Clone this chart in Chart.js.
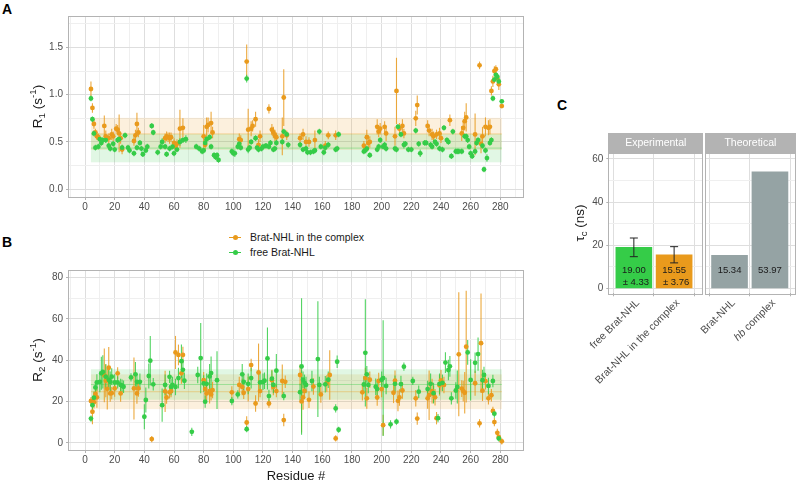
<!DOCTYPE html>
<html>
<head>
<meta charset="utf-8">
<script src="https://cdn.jsdelivr.net/npm/chart.js@4.4.1/dist/chart.umd.min.js"></script>
<style>
  body { margin: 0; background: #fff; font-family: "Liberation Sans", Arial, sans-serif; }
  #wrap { position: relative; width: 796px; height: 484px; overflow: hidden; }
  .pos { position: absolute; }
  .tag { position: absolute; font-weight: bold; font-size: 14px; line-height: 14px; color: #000; }
  .leg { position: absolute; left: 228px; font-size: 10.5px; line-height: 14px; color: #1a1a1a; white-space: nowrap; }
  .sym { display: inline-block; position: relative; width: 14px; height: 14px; vertical-align: top; margin-right: 8px; }
  .sym i { position: absolute; left: 1px; right: 1px; top: 7px; height: 1px; }
  .sym b { position: absolute; left: 5px; top: 5px; width: 5px; height: 5px; border-radius: 50%; }
</style>
</head>
<body>
<div id="wrap">
  <div class="tag" style="left:2px;top:2px">A</div>
  <div class="tag" style="left:2px;top:235px">B</div>
  <div class="tag" style="left:557px;top:98px">C</div>
  <div id="legend"></div>
  <div class="pos" style="left:0;top:0"><canvas id="chartA" width="540" height="215"></canvas></div>
  <div class="pos" style="left:0;top:260px"><canvas id="chartB" width="540" height="224"></canvas></div>
  <div class="pos" style="left:540px;top:120px"><canvas id="chartC1" width="165" height="364"></canvas></div>
  <div class="pos" style="left:660px;top:120px"><canvas id="chartC2" width="136" height="364"></canvas></div>
</div>
<script>
const FONT = '"Liberation Sans", Arial, sans-serif';
const COL_COMPLEX = "#E99A1C";
const COL_FREE = "#35CC48";
const COL_THEO = "#95A3A4";

const seriesNames = ["Brat-NHL in the complex", "free Brat-NHL"];

// [residue, value, error]  R1 (s-1)
const r1Complex = [
  [4,1.06,0.08],[5,0.86,0.05],[6,0.69,0.05],[7,0.60,0.04],[8,0.56,0.04],[9,0.55,0.04],[13,0.67,0.11],[14,0.56,0.06],
  [16,0.54,0.05],[18,0.58,0.06],[19,0.56,0.05],[21,0.64,0.05],[22,0.63,0.05],[23,0.59,0.2],[24,0.54,0.06],[25,0.42,0.05],
  [33,0.51,0.05],[34,0.57,0.06],[35,0.69,0.12],[36,0.60,0.05],[54,0.54,0.05],[55,0.56,0.05],[56,0.55,0.05],[57,0.54,0.06],
  [58,0.55,0.05],[60,0.49,0.05],[61,0.45,0.05],[62,0.48,0.05],[64,0.64,0.2],[66,0.65,0.1],[80,0.56,0.12],[81,0.47,0.05],
  [82,0.66,0.1],[83,0.68,0.08],[85,0.70,0.12],[86,0.60,0.06],[104,0.53,0.06],[105,0.52,0.05],[109,1.35,0.18],[110,0.63,0.22],
  [112,0.64,0.08],[113,0.67,0.06],[115,0.74,0.08],[117,0.47,0.06],[118,0.56,0.06],[124,0.85,0.05],[126,0.63,0.06],[127,0.60,0.06],
  [128,0.57,0.06],[129,0.55,0.05],[133,0.56,0.2],[134,0.97,0.3],[136,0.57,0.05],[145,0.54,0.05],[147,0.58,0.06],[149,0.50,0.06],
  [151,0.50,0.05],[155,0.52,0.1],[162,0.46,0.05],[164,0.57,0.04],[169,0.57,0.05],[188,0.46,0.05],[190,0.55,0.08],[191,0.49,0.08],
  [192,0.50,0.06],[197,0.66,0.08],[198,0.61,0.06],[199,0.64,0.06],[202,0.66,0.06],[203,0.59,0.08],[209,0.56,0.1],[210,1.04,0.35],
  [212,0.64,0.06],[214,0.67,0.07],[215,0.59,0.05],[223,0.75,0.08],[224,0.89,0.1],[231,0.67,0.06],[232,0.62,0.06],[234,0.58,0.06],
  [235,0.56,0.05],[237,0.58,0.05],[239,0.59,0.06],[240,0.54,0.05],[246,0.73,0.06],[254,0.59,0.08],[255,0.65,0.08],[256,0.72,0.1],
  [257,0.76,0.15],[263,0.58,0.22],[266,1.31,0.04],[267,0.48,0.1],[268,0.56,0.1],[270,0.66,0.1],[272,0.65,0.08],[273,0.66,0.08],
  [274,1.04,0.05],[275,1.14,0.06],[276,1.25,0.05],[277,1.27,0.04],[278,1.17,0.05],[279,1.11,0.06],[281,0.88,0.02]
];
const r1Free = [
  [4,0.96,0.03],[5,0.74,0.03],[6,0.59,0.03],[7,0.44,0.03],[9,0.45,0.03],[10,0.53,0.03],[11,0.49,0.03],[12,0.52,0.03],
  [14,0.52,0.03],[16,0.46,0.03],[17,0.43,0.03],[19,0.48,0.03],[20,0.42,0.03],[22,0.52,0.03],[23,0.53,0.03],[25,0.44,0.03],
  [27,0.57,0.03],[29,0.44,0.03],[30,0.41,0.03],[33,0.38,0.03],[35,0.44,0.03],[37,0.49,0.03],[38,0.43,0.03],[39,0.37,0.03],
  [41,0.41,0.03],[42,0.45,0.03],[45,0.67,0.03],[46,0.60,0.03],[49,0.39,0.03],[51,0.45,0.03],[52,0.50,0.04],[54,0.45,0.03],
  [55,0.37,0.03],[57,0.43,0.03],[59,0.45,0.03],[60,0.38,0.03],[62,0.42,0.03],[64,0.50,0.04],[66,0.52,0.03],[68,0.53,0.04],
  [75,0.45,0.03],[77,0.43,0.03],[79,0.40,0.03],[80,0.41,0.03],[81,0.49,0.03],[82,0.53,0.03],[84,0.55,0.03],[85,0.45,0.03],
  [87,0.36,0.03],[88,0.34,0.03],[89,0.36,0.03],[90,0.31,0.03],[99,0.40,0.03],[100,0.38,0.03],[101,0.38,0.04],[103,0.45,0.03],
  [104,0.48,0.03],[105,0.44,0.03],[109,1.17,0.04],[110,0.42,0.04],[111,0.44,0.03],[112,0.50,0.03],[115,0.54,0.03],[116,0.44,0.03],
  [117,0.42,0.03],[119,0.43,0.03],[120,0.45,0.03],[122,0.46,0.03],[124,0.45,0.03],[125,0.49,0.03],[127,0.42,0.03],[128,0.43,0.03],
  [129,0.49,0.03],[133,0.50,0.03],[134,0.61,0.03],[136,0.58,0.03],[137,0.47,0.03],[145,0.47,0.03],[147,0.42,0.03],[149,0.43,0.03],
  [150,0.39,0.03],[152,0.39,0.03],[154,0.40,0.03],[155,0.41,0.03],[158,0.61,0.03],[159,0.45,0.03],[161,0.39,0.03],[162,0.44,0.03],
  [164,0.47,0.03],[169,0.42,0.03],[170,0.43,0.03],[171,0.58,0.03],[188,0.40,0.03],[189,0.41,0.03],[190,0.43,0.03],[192,0.36,0.03],
  [197,0.42,0.03],[198,0.45,0.03],[199,0.52,0.03],[201,0.45,0.03],[202,0.47,0.03],[203,0.43,0.03],[209,0.43,0.03],[210,0.42,0.03],
  [211,0.66,0.03],[213,0.58,0.03],[215,0.47,0.04],[216,0.48,0.03],[218,0.42,0.03],[220,0.42,0.03],[223,0.62,0.03],[225,0.48,0.03],
  [226,0.38,0.04],[229,0.49,0.03],[230,0.49,0.03],[233,0.47,0.03],[234,0.45,0.03],[236,0.50,0.03],[237,0.48,0.03],[239,0.43,0.03],
  [241,0.42,0.03],[242,0.65,0.03],[244,0.52,0.03],[245,0.50,0.03],[247,0.35,0.03],[248,0.61,0.03],[250,0.40,0.03],[251,0.40,0.03],
  [252,0.40,0.03],[254,0.40,0.03],[256,0.56,0.03],[257,0.56,0.03],[258,0.52,0.03],[259,0.45,0.03],[260,0.38,0.03],[261,0.35,0.03],
  [263,0.40,0.03],[264,0.49,0.03],[265,0.52,0.03],[268,0.46,0.03],[269,0.21,0.03],[270,0.41,0.03],[271,0.33,0.04],[273,0.49,0.03],
  [274,0.52,0.03],[275,0.96,0.03],[276,1.16,0.03],[277,1.21,0.03],[278,1.19,0.03],[279,1.14,0.03],[281,0.93,0.02]
];

// [residue, value, error]  R2 (s-1)
const r2Complex = [
  [4,20.2,2],[5,15.0,6],[6,19.6,3],[7,23.6,3],[8,22.0,5],[13,32.6,13],[14,30,8],[15,26.1,10],[16,36.3,10],[17,23.9,4],
  [18,24,3],[20,26.3,4],[22,33.6,3],[24,23.9,4],[33,26.3,15],[35,23.9,5],[36,26.3,4],[45,1.8,1.5],[54,24.9,10],[55,21.9,3],
  [57,24.4,3],[58,25,3],[61,43.7,8],[63,42.5,5],[65,33.6,5],[66,42.5,4],[80,30.3,4],[81,26,5],[82,23.9,4],[84,25,6],
  [85,23.4,3],[86,25.5,4],[99,24.4,3],[104,28.0,4],[106,27,4],[107,24.2,3],[109,9.8,3],[110,26,6],[112,37.6,3],[115,19,4],
  [117,34,14],[118,25,3],[124,19,2],[126,30.3,5],[127,27,4],[129,25,3],[133,29.9,8],[134,11,3],[135,29.5,3],[145,32.8,5],
  [146,20,15],[147,22,6],[148,25.1,4],[151,20.8,4],[154,27.2,4],[159,23.4,4],[163,28.7,4],[165,32.8,12],[169,2.1,1.5],[187,24.4,4],
  [189,31.3,5],[190,21.5,5],[192,30.5,4],[197,21.9,4],[198,29.9,4],[200,26,4],[201,8.5,5],[208,24.2,5],[209,30,5],[211,20.3,5],
  [212,21.9,4],[214,25.3,4],[223,21.5,4],[224,11.7,3],[231,21.5,5],[232,23,12],[234,25,6],[235,23.5,4],[236,22,4],[237,11.9,3],
  [239,27.8,5],[240,30.2,5],[242,28.0,4],[252,42.8,30],[254,26.2,4],[255,25,5],[256,24.2,10],[257,46.5,27],[263,28.8,6],[266,9.4,2],
  [267,48.2,24],[268,25.2,5],[270,29.8,4],[272,21.5,3],[274,23,3],[275,15.4,2],[276,10,2],[278,4.8,2],[279,2.7,1.5],[281,0.7,1.5]
];
const r2Free = [
  [4,11.7,1.5],[5,18.2,3],[6,21.8,3],[7,26.8,3],[8,29.2,4],[10,29.5,5],[11,33.6,8],[12,34.3,8],[14,32,6],[16,30.5,5],
  [17,29.5,5],[18,32.0,4],[20,29.2,4],[22,29.2,3],[24,28,3],[25,27.6,3],[26,27.1,3],[31,31.6,2],[34,33.1,6],[35,29.5,4],
  [37,29.5,4],[40,12.6,6],[41,20.7,6],[43,32.3,6],[44,39.7,12],[46,28.3,3],[52,18.2,8],[54,28,5],[57,31.9,3],[58,27,4],
  [59,28,4],[61,27,4],[63,31.3,5],[65,39.5,8],[66,35.3,5],[67,30,4],[72,5.3,2],[76,32.8,4],[78,41,17],[80,28.7,4],
  [81,19.9,3],[82,28.5,5],[84,32.1,6],[85,33.7,8],[89,30.3,14],[99,20.2,2],[103,23.4,2],[106,33.1,5],[107,29.5,4],[109,6.6,1.5],
  [110,28.5,5],[112,31.3,5],[118,29.2,5],[120,29.5,4],[121,30,4],[123,40.8,15],[124,22.6,3],[126,31,4],[127,28,4],[129,34.9,8],
  [134,22.6,2],[145,24.5,4],[146,36.9,33],[147,30.5,4],[148,29,4],[149,28,4],[153,29.9,5],[157,40.5,28],[158,28,4],[162,28.3,4],
  [164,30.5,4],[169,16.6,2],[170,39.2,3],[171,6.3,1.5],[188,28.2,4],[189,43.5,26],[190,33.1,4],[191,28,4],[196,27.1,4],[197,26,4],
  [200,30.5,4],[201,31.3,28],[203,27.5,4],[206,8.9,2],[209,28.5,4],[210,10.2,1.5],[213,28.4,4],[215,36.8,2],[221,29.9,2],[225,24.7,3],
  [231,26,4],[233,28.5,5],[235,24,5],[238,11.9,2],[239,28.5,5],[241,29,4],[243,38.8,5],[245,35.2,5],[246,37,5],[247,21.5,3],
  [250,25.3,4],[251,27,8],[258,43.7,6],[260,30.4,10],[263,38.7,5],[265,42.9,8],[268,30.3,5],[269,32.8,4],[272,27.5,4],[275,29.9,3],
  [276,14.1,2],[279,2.1,1.5]
];

// mean and sd bands: [complex, free]
const r1Mean = [0.585, 0.435];
const r1Sd = [0.17, 0.15];
const r2Mean = [24.7, 28.2];
const r2Sd = [8.4, 7.4];

// panel C: rotational correlation time
const expCats = ["free Brat-NHL", "Brat-NHL in the complex"];
const expTau = [19.00, 15.55];
const expErr = [4.33, 3.76];
const theoCats = ["Brat-NHL", "hb complex"];
const theoTau = [15.34, 53.97];
const italicWords = ["hb"];

Chart.defaults.font.family = FONT;
Chart.defaults.color = "#4d4d4d";

function near(v, step) {
  return Math.abs(v / step - Math.round(v / step)) < 1e-6;
}

function alpha(hex, a) {
  const n = parseInt(hex.slice(1), 16);
  return `rgba(${n >> 16},${(n >> 8) & 255},${n & 255},${a})`;
}

// draws text with sub/superscripts, optionally rotated
function drawRich(ctx, parts, cx, cy, size, rotate) {
  ctx.save();
  ctx.translate(cx, cy);
  if (rotate) ctx.rotate(-Math.PI / 2);
  const small = size * 0.72;
  let w = 0;
  parts.forEach((p) => {
    ctx.font = `${p.sub || p.sup ? small : size}px ${FONT}`;
    p.w = ctx.measureText(p.t).width;
    w += p.w;
  });
  let x = -w / 2;
  ctx.fillStyle = "#1a1a1a";
  ctx.textBaseline = "middle";
  ctx.textAlign = "left";
  parts.forEach((p) => {
    ctx.font = `${p.sub || p.sup ? small : size}px ${FONT}`;
    const dy = p.sub ? size * 0.3 : p.sup ? -size * 0.35 : 0;
    ctx.fillText(p.t, x, dy);
    x += p.w;
  });
  ctx.restore();
}

const panelPlugin = {
  id: "panel",
  beforeDatasetsDraw(chart, args, opts) {
    const { ctx, chartArea, scales: { x, y } } = chart;
    ctx.save();
    ctx.beginPath();
    ctx.rect(chartArea.left, chartArea.top, chartArea.width, chartArea.height);
    ctx.clip();
    // sd bands then mean lines
    (opts.bands || []).forEach((b) => {
      const x0 = x.getPixelForValue(b.from), x1 = x.getPixelForValue(b.to);
      const yTop = y.getPixelForValue(b.mean + b.sd), yBot = y.getPixelForValue(b.mean - b.sd);
      ctx.fillStyle = alpha(b.color, 0.15);
      ctx.fillRect(x0, yTop, x1 - x0, yBot - yTop);
    });
    (opts.bands || []).forEach((b) => {
      const x0 = x.getPixelForValue(b.from), x1 = x.getPixelForValue(b.to);
      const ym = y.getPixelForValue(b.mean);
      ctx.strokeStyle = alpha(b.color, 0.55);
      ctx.lineWidth = 0.7;
      ctx.beginPath(); ctx.moveTo(x0, ym); ctx.lineTo(x1, ym); ctx.stroke();
    });
    if (!opts.errAfter) drawErrors(chart, opts);
    ctx.restore();
  },
  afterDatasetsDraw(chart, args, opts) {
    if (opts.errAfter) drawErrors(chart, opts);
  },
  afterDraw(chart, args, opts) {
    const { ctx, chartArea: a } = chart;
    ctx.save();
    ctx.strokeStyle = "#b3b3b3";
    ctx.lineWidth = 1;
    ctx.strokeRect(Math.round(a.left) - 0.5, Math.round(a.top) + 0.5, Math.round(a.width) + 1, Math.round(a.height));
    if (opts.strip) {
      ctx.fillStyle = "#b3b3b3";
      ctx.fillRect(Math.round(a.left) - 1, Math.round(a.top) - 20, Math.round(a.width) + 2, 20);
      ctx.fillStyle = "#fff";
      ctx.font = `10.5px ${FONT}`;
      ctx.textAlign = "center";
      ctx.textBaseline = "middle";
      ctx.fillText(opts.strip, (a.left + a.right) / 2, a.top - 10);
    }
    if (opts.yTitle) drawRich(ctx, opts.yTitle, opts.yTitleX, (a.top + a.bottom) / 2, 13.5, true);
    if (opts.catLabels) {
      const x = chart.scales.x;
      opts.catLabels.forEach((lab, i) => {
        const px = x.getPixelForValue(i + 1);
        ctx.save();
        ctx.translate(px + 4, a.bottom + 8);
        ctx.rotate(-Math.PI / 4);
        ctx.fillStyle = "#4d4d4d";
        ctx.textAlign = "left";
        ctx.textBaseline = "middle";
        const words = lab.split(" ").map((t, k, arr) => ({ t: k < arr.length - 1 ? t + " " : t, it: italicWords.includes(t) }));
        let w = 0;
        words.forEach((p) => { ctx.font = `${p.it ? "italic " : ""}10.5px ${FONT}`; p.w = ctx.measureText(p.t).width; w += p.w; });
        let cx = -w;
        words.forEach((p) => { ctx.font = `${p.it ? "italic " : ""}10.5px ${FONT}`; ctx.fillText(p.t, cx, 0); cx += p.w; });
        ctx.restore();
      });
    }
    if (opts.barText) {
      const { x, y } = chart.scales;
      ctx.fillStyle = "#1a1a1a";
      ctx.font = `9.5px ${FONT}`;
      ctx.textAlign = "center";
      ctx.textBaseline = "middle";
      opts.barText.forEach((lines, i) => {
        const px = x.getPixelForValue(i + 1);
        ctx.fillText(lines[0], px, y.getPixelForValue(8.2));
        if (lines[1]) ctx.fillText(lines[1], px + 2, y.getPixelForValue(2.6));
      });
    }
    ctx.restore();
  },
};

function drawErrors(chart, opts) {
  const { ctx, scales: { x, y } } = chart;
  chart.data.datasets.slice().reverse().forEach((ds) => {
    if (!ds.errs) return;
    ctx.strokeStyle = ds.errColor;
    ctx.lineWidth = opts.errWidth || 1.1;
    ds.data.forEach((p, j) => {
      const e = ds.errs[j];
      if (!e) return;
      const px = x.getPixelForValue(p.x);
      const y0 = y.getPixelForValue(p.y - e), y1 = y.getPixelForValue(p.y + e);
      ctx.beginPath();
      ctx.moveTo(px, y0); ctx.lineTo(px, y1);
      if (opts.whisker) {
        const h = opts.whisker / 2;
        ctx.moveTo(px - h, y0); ctx.lineTo(px + h, y0);
        ctx.moveTo(px - h, y1); ctx.lineTo(px + h, y1);
      }
      ctx.stroke();
    });
  });
}

function pointSet(rows, label, color) {
  return {
    type: "scatter",
    label: label,
    data: rows.map((r) => ({ x: r[0], y: r[1] })),
    errs: rows.map((r) => r[2]),
    errColor: alpha(color, 0.85),
    backgroundColor: color,
    borderWidth: 0,
    pointRadius: 2.4,
  };
}

function residueChart(id, complex, free, mean, sd, yr, titleParts, xTitle, pad, xHeight) {
  const all = complex.concat(free).map((r) => r[0]);
  const from = Math.min(...all), to = Math.max(...all);
  const colors = [COL_COMPLEX, COL_FREE];
  return new Chart(document.getElementById(id), {
    type: "scatter",
    data: {
      datasets: [
        pointSet(free, seriesNames[1], COL_FREE),
        pointSet(complex, seriesNames[0], COL_COMPLEX),
      ],
    },
    options: {
      responsive: false,
      animation: false,
      devicePixelRatio: 1,
      layout: { padding: pad },
      plugins: {
        legend: { display: false },
        tooltip: { enabled: false },
        panel: {
          bands: [0, 1].map((i) => ({ from: from, to: to, mean: mean[i], sd: sd[i], color: colors[i] })),
          yTitle: titleParts,
          yTitleX: 38,
        },
      },
      scales: {
        x: {
          type: "linear",
          min: -10.8,
          max: 295.3,
          border: { display: false },
          afterFit: (s) => { s.height = xHeight; },
          grid: {
            color: (c) => (near(c.tick.value, 20) ? "#dedede" : "#efefef"),
            tickColor: (c) => (near(c.tick.value, 20) ? "#b3b3b3" : "rgba(0,0,0,0)"),
            tickLength: 3,
          },
          ticks: {
            stepSize: 10,
            includeBounds: false,
            autoSkip: false,
            maxRotation: 0,
            padding: 1.5,
            font: { size: 10 },
            callback: (v) => (near(v, 20) ? v : ""),
          },
          title: xTitle
            ? { display: true, text: xTitle, color: "#1a1a1a", font: { size: 13 }, padding: { top: 0, bottom: 0 } }
            : { display: false },
        },
        y: {
          min: yr.min,
          max: yr.max,
          border: { display: false },
          afterFit: (s) => { s.width = 69; },
          grid: {
            color: (c) => (near(c.tick.value, yr.major) ? "#dedede" : "#efefef"),
            tickColor: (c) => (near(c.tick.value, yr.major) ? "#b3b3b3" : "rgba(0,0,0,0)"),
            tickLength: 3,
          },
          ticks: {
            stepSize: yr.major / 2,
            includeBounds: false,
            autoSkip: false,
            padding: 3,
            font: { size: 10 },
            callback: (v) => (near(v, yr.major) ? v.toFixed(yr.dec) : ""),
          },
        },
      },
    },
    plugins: [panelPlugin],
  });
}

residueChart("chartA", r1Complex, r1Free, r1Mean, r1Sd,
  { min: -0.082, max: 1.832, major: 0.5, dec: 1 },
  [{ t: "R" }, { t: "1", sub: true }, { t: " (s" }, { t: "-1", sup: true }, { t: ")" }],
  null, { left: 0, right: 17, top: 16, bottom: 0 }, 18);

residueChart("chartB", r2Complex, r2Free, r2Mean, r2Sd,
  { min: -3.5, max: 83.6, major: 20, dec: 0 },
  [{ t: "R" }, { t: "2", sub: true }, { t: " (s" }, { t: "-1", sup: true }, { t: ")" }],
  "Residue #", { left: 0, right: 17, top: 10, bottom: 0 }, 34);

function tauChart(id, cats, vals, errs, colors, strip, xr, pad, yWidth, withAxis) {
  const barText = vals.map((v, i) => (errs ? [v.toFixed(2), "± " + errs[i].toFixed(2)] : [v.toFixed(2)]));
  return new Chart(document.getElementById(id), {
    type: "bar",
    data: {
      datasets: [{
        data: vals.map((v, i) => ({ x: i + 1, y: v })),
        errs: errs,
        errColor: "#222",
        backgroundColor: colors,
        barThickness: 36,
      }],
    },
    options: {
      responsive: false,
      animation: false,
      devicePixelRatio: 1,
      layout: { padding: pad },
      plugins: {
        legend: { display: false },
        tooltip: { enabled: false },
        panel: {
          strip: strip,
          catLabels: cats,
          barText: barText,
          errAfter: true,
          whisker: 8,
          errWidth: 1,
          yTitle: withAxis ? [{ t: "τ" }, { t: "c", sub: true }, { t: " (ns)" }] : null,
          yTitleX: 40,
        },
      },
      scales: {
        x: {
          type: "linear",
          min: xr[0],
          max: xr[1],
          offset: false,
          border: { display: false },
          afterFit: (s) => { s.height = 190.7; },
          grid: { color: "#dedede", tickColor: "#b3b3b3", tickLength: 3 },
          ticks: { stepSize: 1, includeBounds: false, autoSkip: false, callback: () => "" },
        },
        y: {
          min: -2.32,
          max: 62.9,
          border: { display: false },
          afterFit: (s) => { s.width = yWidth; },
          grid: {
            color: (c) => (near(c.tick.value, 20) ? "#dedede" : "#efefef"),
            tickColor: (c) => (near(c.tick.value, 20) ? "#b3b3b3" : "rgba(0,0,0,0)"),
            tickLength: 3,
            drawTicks: withAxis,
          },
          ticks: {
            display: withAxis,
            stepSize: 10,
            includeBounds: false,
            autoSkip: false,
            padding: 3,
            font: { size: 10 },
            callback: (v) => (near(v, 20) ? v : ""),
          },
        },
      },
    },
    plugins: [panelPlugin],
  });
}

tauChart("chartC1", expCats, expTau, expErr, [COL_FREE, COL_COMPLEX], "Experimental",
  [0.39, 2.7], { left: 0, right: 2.7, top: 32.7, bottom: 0 }, 69.3, true);
tauChart("chartC2", theoCats, theoTau, null, [COL_THEO, COL_THEO], "Theoretical",
  [0.41, 2.62], { left: 45.7, right: 1, top: 32.7, bottom: 0 }, 0, false);

// legend between panels A and B
const legend = document.getElementById("legend");
[[seriesNames[0], COL_COMPLEX, 230], [seriesNames[1], COL_FREE, 245]].forEach(([name, col, top]) => {
  const row = document.createElement("div");
  row.className = "leg";
  row.style.top = top + "px";
  row.innerHTML = `<span class="sym"><i style="background:${col}"></i><b style="background:${col}"></b></span>${name}`;
  legend.appendChild(row);
});
</script>
</body>
</html>
